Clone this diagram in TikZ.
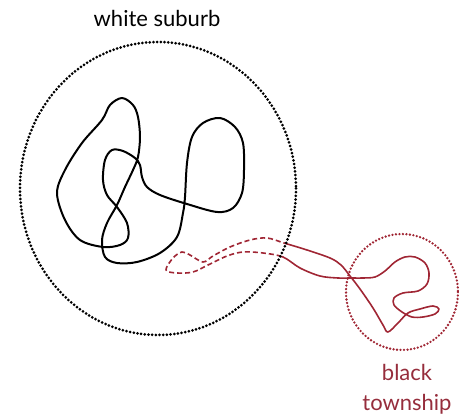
\documentclass[tikz,border=0pt]{standalone}
\usepackage{fontspec}
\setmainfont{Lato}
\definecolor{tred}{RGB}{160,38,52}
\definecolor{ttxt}{RGB}{150,45,60}
\tikzset{
  blackdots/.style={line width=3pt, line cap=round, dash pattern=on 0pt off 3.7pt},
  reddots/.style={tred, line width=2.6pt, line cap=round, dash pattern=on 0pt off 3.5pt},
  route/.style={line width=2pt, line join=round},
  redroute/.style={tred, line width=1.6pt, line join=round},
  label/.style={font=\fontsize{22}{24}\selectfont, anchor=base, inner sep=0pt}
}
\begin{document}
\begin{tikzpicture}[x=1pt,y=-1pt]
\useasboundingbox (0,0) rectangle (459,419);
\def\redpath{plot[smooth cycle, tension=0.55] coordinates {
 (284,243) (307,250) (330,258) (341,265) (350,276) (360,289) (373,308) (383,325) (388,332)
 (398,323) (408,313) (420,309) (433,306) (439,309) (435,314) (423,317) (412,317) (402,312)
 (394,305) (394,298) (403,293) (418,291) (427,284) (429,273) (425,263) (415,257) (405,257)
 (395,262) (385,271) (375,277) (363,278) (350,278) (338,278) (320,276) (300,268) (283,257)
 (263,253) (243,252) (227,256) (208,265) (193,272) (177,273) (166,270) (173,258) (182,252)
 (190,255) (203,262) (213,256) (230,247) (250,240) (267,238)}}
% solid red route
\draw[redroute] \redpath;
% mask inside white suburb
\fill[white] (158,188.5) ellipse [x radius=138, y radius=146.5];
% dashed red route inside
\begin{scope}
  \clip (158,188.5) ellipse [x radius=138, y radius=146.5];
  \draw[redroute, dash pattern=on 5pt off 3pt] \redpath;
\end{scope}
% black route
\draw[route] plot[smooth cycle, tension=0.55] coordinates {
 (122,98) (133,105) (138,117) (140,137) (138,157) (133,170) (125,187) (117,205) (107,223)
 (102,240) (105,257) (117,263) (137,262) (160,253) (177,237) (183,213) (185,197) (187,163)
 (192,137) (203,123) (220,118) (235,127) (243,143) (244,170) (242,193) (233,208) (217,212)
 (187,204) (160,195) (147,187) (142,177) (140,165) (135,158) (123,151) (112,150) (105,160)
 (103,180) (107,195) (117,207) (127,223) (128,238) (120,245) (103,247) (80,240) (65,220)
 (57,193) (65,170) (82,143) (102,120) (110,105)};
% boundaries
\draw[blackdots] (158,188.5) ellipse [x radius=138, y radius=146.5];
\draw[reddots] (402,292) ellipse [x radius=56, y radius=58];
% labels
\node[label] (suburb) at (157,27) {white suburb};
\node[label, ttxt] (black) at (407,381) {black};
\node[label, ttxt] (township) at (407,411) {township};
\end{tikzpicture}
\end{document}
